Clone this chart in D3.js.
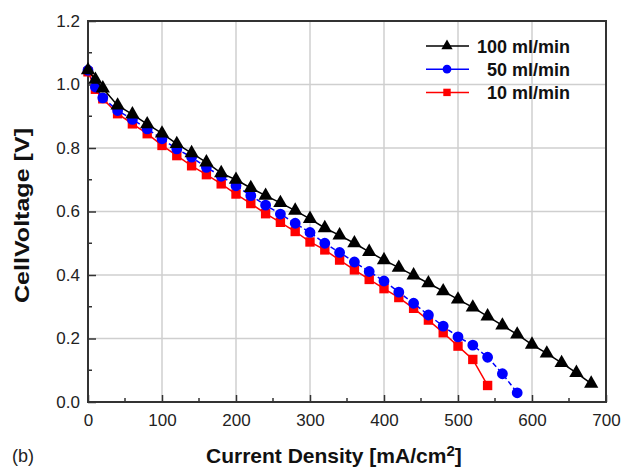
<!DOCTYPE html>
<html>
<head>
<meta charset="utf-8">
<script src="https://cdn.jsdelivr.net/npm/d3@7"></script>
<style>
  body { margin: 0; background: #fff; }
  svg { font-family: "Liberation Sans", Arial, sans-serif; }
</style>
</head>
<body>
<svg id="chart" width="621" height="467"></svg>
<script>
// current density [mA/cm2]
var x100 = [0, 10, 20, 40, 60, 80, 100, 120, 140, 160, 180, 200, 220, 240, 260, 280, 300, 320, 340, 360, 380, 400, 420, 440, 460, 480, 500, 520, 540, 560, 580, 600, 620, 640, 660, 680];
var x50 = [0, 10, 20, 40, 60, 80, 100, 120, 140, 160, 180, 200, 220, 240, 260, 280, 300, 320, 340, 360, 380, 400, 420, 440, 460, 480, 500, 520, 540, 560, 580];
var x10 = [0, 10, 20, 40, 60, 80, 100, 120, 140, 160, 180, 200, 220, 240, 260, 280, 300, 320, 340, 360, 380, 400, 420, 440, 460, 480, 500, 520, 540];

// cell voltage [V]
var v100 = [1.045, 1.015, 0.988, 0.934, 0.906, 0.875, 0.846, 0.813, 0.784, 0.755, 0.721, 0.700, 0.674, 0.650, 0.627, 0.603, 0.577, 0.548, 0.525, 0.500, 0.473, 0.447, 0.423, 0.399, 0.374, 0.349, 0.323, 0.298, 0.270, 0.241, 0.213, 0.181, 0.153, 0.123, 0.092, 0.058];
var v50 = [1.045, 0.992, 0.958, 0.918, 0.890, 0.860, 0.829, 0.797, 0.771, 0.739, 0.711, 0.681, 0.650, 0.620, 0.592, 0.563, 0.534, 0.500, 0.471, 0.441, 0.411, 0.381, 0.346, 0.311, 0.274, 0.239, 0.205, 0.179, 0.141, 0.089, 0.029];
var v10 = [1.040, 0.985, 0.955, 0.908, 0.876, 0.845, 0.808, 0.776, 0.744, 0.716, 0.687, 0.655, 0.625, 0.593, 0.566, 0.537, 0.504, 0.479, 0.447, 0.416, 0.386, 0.357, 0.329, 0.295, 0.258, 0.218, 0.176, 0.134, 0.052];

var seriesNames = ["100 ml/min", "50 ml/min", "10 ml/min"];
var xTicks = [0, 100, 200, 300, 400, 500, 600, 700];
var yTicks = [0.0, 0.2, 0.4, 0.6, 0.8, 1.0, 1.2];

var svg = d3.select("#chart");
// plot box (note: "top" clashes with window.top)
var pLeft = 88, pRight = 606, pTop = 21, pBottom = 402;

var x = d3.scaleLinear().domain([0, 700]).range([pLeft, pRight]);
var y = d3.scaleLinear().domain([0, 1.2]).range([pBottom, pTop]);

// grid
svg.append("g").selectAll("line")
    .data(xTicks.slice(1, -1)).enter().append("line")
    .attr("x1", d => x(d)).attr("x2", d => x(d))
    .attr("y1", pTop).attr("y2", pBottom)
    .attr("stroke", "#cfcfcf").attr("stroke-width", 1.5);
svg.append("g").selectAll("line")
    .data(yTicks.slice(1, -1)).enter().append("line")
    .attr("y1", d => y(d)).attr("y2", d => y(d))
    .attr("x1", pLeft).attr("x2", pRight)
    .attr("stroke", "#cfcfcf").attr("stroke-width", 1.5);

// axes, ticks inward
var xAxis = d3.axisBottom(x).tickValues(xTicks).tickSize(-7).tickPadding(12).tickFormat(d3.format("d"));
var yAxis = d3.axisLeft(y).tickValues(yTicks).tickSize(-8).tickPadding(8).tickFormat(d3.format(".1f"));

var gx = svg.append("g").attr("transform", "translate(0," + pBottom + ")").call(xAxis);
var gy = svg.append("g").attr("transform", "translate(" + pLeft + ",0)").call(yAxis);
[gx, gy].forEach(function(g) {
    g.select(".domain").remove();
    g.selectAll("line").attr("stroke", "#333").attr("stroke-width", 1.5);
    g.selectAll("text").attr("fill", "#222").style("font-size", "17px");
});

// minor ticks
svg.append("g").selectAll("line")
    .data([50, 150, 250, 350, 450, 550, 650]).enter().append("line")
    .attr("x1", d => x(d)).attr("x2", d => x(d))
    .attr("y1", pBottom).attr("y2", pBottom - 4)
    .attr("stroke", "#333").attr("stroke-width", 1.5);
svg.append("g").selectAll("line")
    .data([0.1, 0.3, 0.5, 0.7, 0.9, 1.1]).enter().append("line")
    .attr("y1", d => y(d)).attr("y2", d => y(d))
    .attr("x1", pLeft).attr("x2", pLeft + 4)
    .attr("stroke", "#333").attr("stroke-width", 1.5);

// frame
svg.append("rect")
    .attr("x", pLeft).attr("y", pTop)
    .attr("width", pRight - pLeft).attr("height", pBottom - pTop)
    .attr("fill", "none").attr("stroke", "#333").attr("stroke-width", 2);

var line = d3.line().x(d => x(d[0])).y(d => y(d[1]));

var triangle = d3.symbol().type(d3.symbolTriangle).size(88);
var circle = d3.symbol().type(d3.symbolCircle).size(92);
var square = d3.symbol().type(d3.symbolSquare).size(88);

function drawSeries(xs, vs, color, dash, sym) {
    var pts = xs.map((d, i) => [d, vs[i]]);
    svg.append("path").datum(pts)
        .attr("d", line)
        .attr("fill", "none")
        .attr("stroke", color)
        .attr("stroke-width", 1.5)
        .attr("stroke-dasharray", dash);
    svg.append("g").selectAll("path")
        .data(pts).enter().append("path")
        .attr("d", sym)
        .attr("transform", d => "translate(" + x(d[0]) + "," + y(d[1]) + ")")
        .attr("fill", color);
}

drawSeries(x10, v10, "#ff0000", null, square);
drawSeries(x50, v50, "#0000ff", "5,3", circle);
drawSeries(x100, v100, "#000000", null, triangle);

// legend
var legendColors = ["#000000", "#0000ff", "#ff0000"];
var legendSyms = [
    d3.symbol().type(d3.symbolTriangle).size(55),
    d3.symbol().type(d3.symbolCircle).size(60),
    d3.symbol().type(d3.symbolSquare).size(55)
];
var leg = svg.append("g");
seriesNames.forEach(function(name, i) {
    var ly = 46 + i * 23.2;
    leg.append("line")
        .attr("x1", 426).attr("x2", 469)
        .attr("y1", ly).attr("y2", ly)
        .attr("stroke", legendColors[i]).attr("stroke-width", 1.5);
    leg.append("path")
        .attr("d", legendSyms[i])
        .attr("transform", "translate(447," + ly + ")")
        .attr("fill", legendColors[i]);
    leg.append("text")
        .attr("x", 570).attr("y", ly + 6.5)
        .attr("text-anchor", "end")
        .attr("font-weight", "bold")
        .style("font-size", "18px")
        .attr("fill", "#111")
        .text(name);
});

// axis titles
var xt = svg.append("text")
    .attr("x", 206).attr("y", 463)
    .attr("font-weight", "bold")
    .style("font-size", "21px")
    .attr("fill", "#111");
xt.append("tspan").text("Current Density [mA/cm");
xt.append("tspan").attr("dy", -7).style("font-size", "15px").text("2");
xt.append("tspan").attr("dy", 7).text("]");

svg.append("text")
    .attr("transform", "translate(29,215.5) rotate(-90)")
    .attr("text-anchor", "middle")
    .attr("font-weight", "bold")
    .style("font-size", "21px")
    .attr("textLength", 175)
    .attr("lengthAdjust", "spacingAndGlyphs")
    .attr("fill", "#111")
    .text("CellVoltage [V]");

svg.append("text")
    .attr("x", 12).attr("y", 462)
    .style("font-size", "18px")
    .attr("fill", "#222")
    .text("(b)");
</script>
</body>
</html>
